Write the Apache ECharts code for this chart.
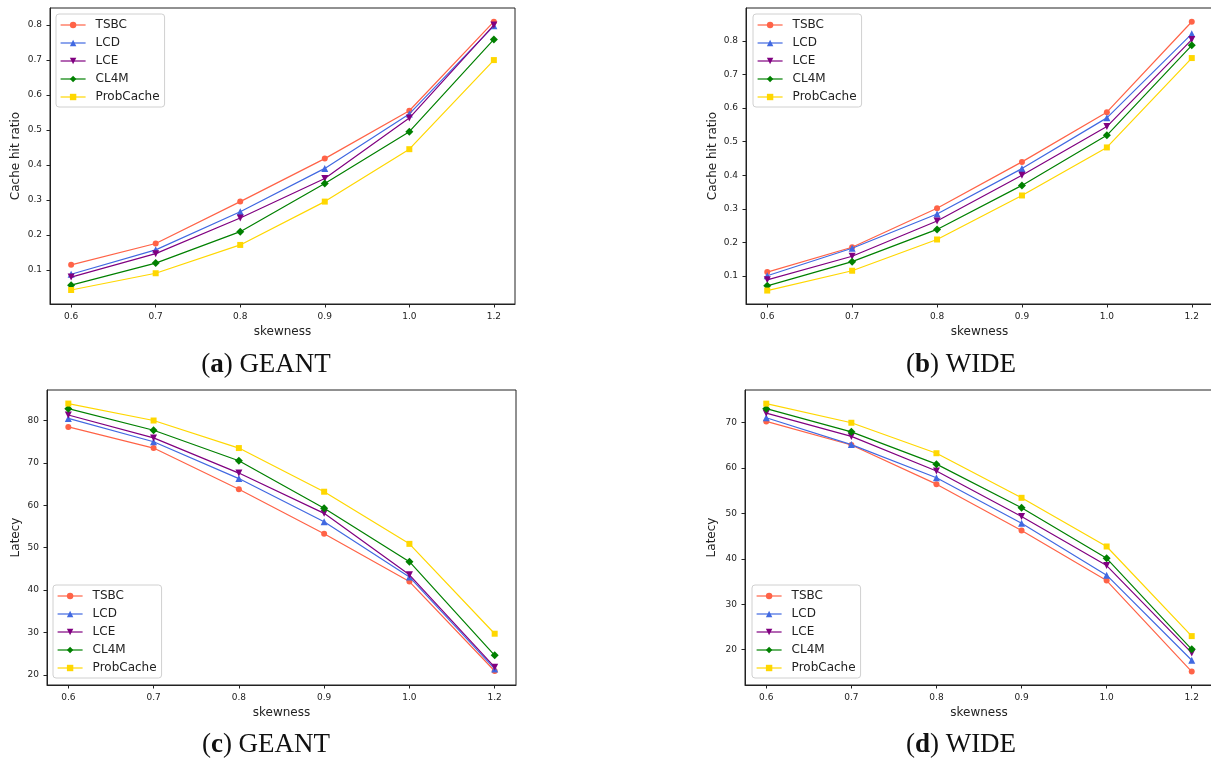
<html>
<head>
    <meta charset="utf-8">
    <script src="https://cdn.jsdelivr.net/npm/echarts@6/dist/echarts.min.js"></script>
</head>
<body style="margin:0;background:#fff">
<div id="main" style="width:1211px;height:762px"></div>
<script>
    // x categories (equally spaced in the figure)
    var skewLabels = ['0.6', '0.7', '0.8', '0.9', '1.0', '1.2'];
    var methods = ['TSBC', 'LCD', 'LCE', 'CL4M', 'ProbCache'];

    // rows follow the order of methods
    var hitGeant = [
        [0.114, 0.175, 0.295, 0.418, 0.555, 0.810],
        [0.087, 0.157, 0.266, 0.390, 0.546, 0.798],
        [0.079, 0.146, 0.248, 0.361, 0.534, 0.800],
        [0.056, 0.119, 0.209, 0.347, 0.495, 0.759],
        [0.042, 0.090, 0.171, 0.295, 0.445, 0.700]
    ];
    var hitWide = [
        [0.112, 0.186, 0.302, 0.440, 0.588, 0.857],
        [0.101, 0.183, 0.285, 0.420, 0.571, 0.821],
        [0.089, 0.159, 0.264, 0.400, 0.545, 0.804],
        [0.071, 0.143, 0.239, 0.370, 0.519, 0.787],
        [0.057, 0.116, 0.209, 0.340, 0.483, 0.749]
    ];
    var latGeant = [
        [78.5, 73.5, 63.8, 53.3, 42.0, 20.9],
        [80.5, 75.0, 66.3, 56.1, 43.1, 21.4],
        [81.3, 75.9, 67.6, 58.1, 43.6, 21.8],
        [82.8, 77.7, 70.5, 59.3, 46.7, 24.6],
        [84.0, 80.0, 73.5, 63.2, 50.9, 29.7]
    ];
    var latWide = [
        [70.2, 65.0, 56.4, 46.2, 35.2, 15.2],
        [71.0, 65.1, 57.8, 47.8, 36.4, 17.7],
        [72.0, 66.9, 59.3, 49.3, 38.5, 19.3],
        [73.0, 67.9, 60.8, 51.2, 40.1, 20.1],
        [74.1, 69.9, 63.2, 53.4, 42.7, 23.0]
    ];
    var hitTicks = [0.1, 0.2, 0.3, 0.4, 0.5, 0.6, 0.7, 0.8];
    var latGeantTicks = [20, 30, 40, 50, 60, 70, 80];
    var latWideTicks = [20, 30, 40, 50, 60, 70];

    var colors = ['#ff6347', '#4169e1', '#800080', '#008000', '#ffd700'];
    var symbols = ['circle', 'triangle', 'triangle', 'diamond', 'rect'];
    var rotates = [0, 0, 180, 0, 0];
    var sizes = [6, 7, 7, 8, 6];

    var panels = [
        {data: hitGeant, ticks: hitTicks, min: 0.002, max: 0.849, name: 'Cache hit ratio', gap: 28,
            grid: {left: 50, top: 8, width: 465, height: 296}, legend: {left: 56, top: 14}, fmt: 1},
        {data: hitWide, ticks: hitTicks, min: 0.017, max: 0.898, name: 'Cache hit ratio', gap: 27,
            grid: {left: 746, top: 8, width: 467, height: 296}, legend: {left: 753, top: 14}, fmt: 1},
        {data: latGeant, ticks: latGeantTicks, min: 17.6, max: 87.2, name: 'Latecy', gap: 25,
            grid: {left: 47, top: 390, width: 469, height: 295}, legend: {left: 53, top: 585}, fmt: 0},
        {data: latWide, ticks: latWideTicks, min: 12.25, max: 77.1, name: 'Latecy', gap: 27,
            grid: {left: 745, top: 390, width: 468, height: 295}, legend: {left: 752, top: 585}, fmt: 0}
    ];

    var captions = [
        {x: 266, y: 365, k: 'a', t: ') GEANT'},
        {x: 961, y: 365, k: 'b', t: ') WIDE'},
        {x: 266, y: 745, k: 'c', t: ') GEANT'},
        {x: 961, y: 745, k: 'd', t: ') WIDE'}
    ];

    var xIdx = skewLabels.map(function (s, i) { return i; });
    var font = 'DejaVu Sans';

    var option = {
        animation: false,
        backgroundColor: '#fff',
        grid: [], xAxis: [], yAxis: [], legend: [], series: [],
        graphic: captions.map(function (c) {
            return {
                type: 'text', x: c.x, y: c.y,
                style: {
                    text: '{n|(}{b|' + c.k + '}{n|' + c.t + '}',
                    textAlign: 'center', textVerticalAlign: 'middle',
                    rich: {
                        n: {fontFamily: 'Liberation Serif', fontSize: 27, fill: '#111'},
                        b: {fontFamily: 'Liberation Serif', fontSize: 27, fontWeight: 'bold', fill: '#111'}
                    }
                }
            };
        })
    };

    panels.forEach(function (p, gi) {
        var g = p.grid;
        option.grid.push({
            left: g.left, top: g.top, width: g.width, height: g.height,
            show: true, borderColor: '#222', borderWidth: 1, backgroundColor: 'transparent',
            outerBoundsMode: 'none'
        });
        option.xAxis.push({
            type: 'value', gridIndex: gi, min: -0.25, max: 5.25,
            name: 'skewness', nameLocation: 'middle', nameGap: 22,
            nameTextStyle: {fontFamily: font, fontSize: 12, color: '#222'},
            axisLine: {show: true, onZero: false, lineStyle: {color: '#222', width: 1}},
            axisTick: {show: true, length: 3.5, customValues: xIdx, lineStyle: {color: '#222'}},
            axisLabel: {
                customValues: xIdx, margin: 8, fontFamily: font, fontSize: 9, color: '#222',
                formatter: function (v) { return skewLabels[Math.round(v)]; }
            },
            splitLine: {show: false}
        });
        option.yAxis.push({
            type: 'value', gridIndex: gi, min: p.min, max: p.max,
            name: p.name, nameLocation: 'middle', nameGap: p.gap,
            nameTextStyle: {fontFamily: font, fontSize: 12, color: '#222'},
            axisLine: {show: true, onZero: false, lineStyle: {color: '#222', width: 1}},
            axisTick: {show: true, length: 3.5, customValues: p.ticks, lineStyle: {color: '#222'}},
            axisLabel: {
                customValues: p.ticks, margin: 8, fontFamily: font, fontSize: 9, color: '#222',
                formatter: function (v) { return v.toFixed(p.fmt); }
            },
            splitLine: {show: false}
        });
        option.legend.push({
            orient: 'vertical', left: p.legend.left, top: p.legend.top,
            data: methods, itemWidth: 25, itemHeight: 8, itemGap: 4,
            padding: [4, 5, 3, 4],
            backgroundColor: 'rgba(255,255,255,0.8)',
            borderColor: '#d0d0d0', borderWidth: 1, borderRadius: 3,
            lineStyle: {width: 1.2},
            textStyle: {fontFamily: font, fontSize: 12, color: '#222', lineHeight: 14, padding: [0, 0, 0, 5]}
        });
        methods.forEach(function (m, si) {
            option.series.push({
                name: m, type: 'line', xAxisIndex: gi, yAxisIndex: gi,
                data: p.data[si].map(function (v, i) { return [xIdx[i], v]; }),
                symbol: symbols[si], symbolRotate: rotates[si], symbolSize: sizes[si],
                showAllSymbol: true,
                lineStyle: {color: colors[si], width: 1.2},
                itemStyle: {color: colors[si]},
                z: 2 + si
            });
        });
    });

    var chart = echarts.init(document.getElementById('main'));
    chart.setOption(option);
</script>
</body>
</html>
